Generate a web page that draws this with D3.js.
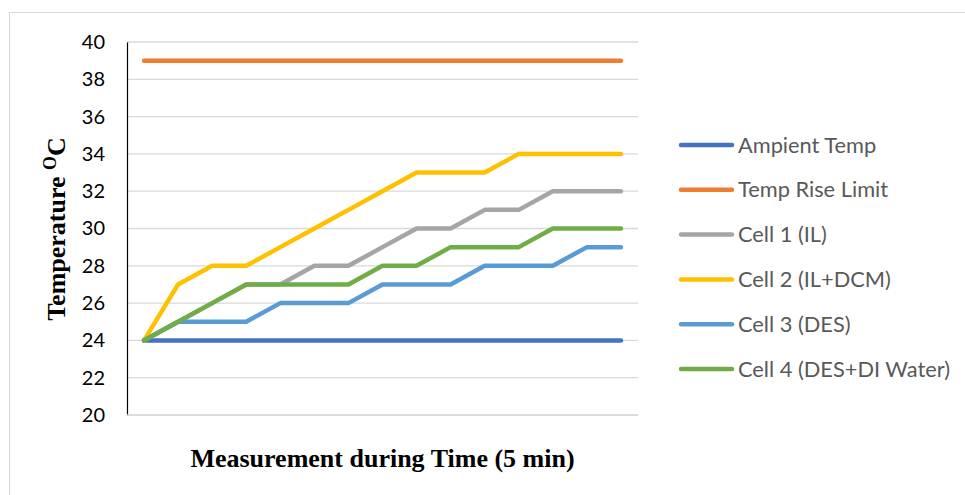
<!DOCTYPE html>
<html>
<head>
<meta charset="utf-8">
<script src="https://cdn.jsdelivr.net/npm/d3@7"></script>
<style>
  html, body { margin: 0; padding: 0; background: #fff; }
  svg { display: block; }
</style>
</head>
<body>
<svg id="chart" width="965" height="495"></svg>
<script>
const categories = ["1","2","3","4","5","6","7","8","9","10","11","12","13","14","15"];
const ampientTemp   = [24,24,24,24,24,24,24,24,24,24,24,24,24,24,24];
const tempRiseLimit = [39,39,39,39,39,39,39,39,39,39,39,39,39,39,39];
const cell1 = [24,25,26,27,27,28,28,29,30,30,31,31,32,32,32];
const cell2 = [24,27,28,28,29,30,31,32,33,33,33,34,34,34,34];
const cell3 = [24,25,25,25,26,26,26,27,27,27,28,28,28,29,29];
const cell4 = [24,25,26,27,27,27,27,28,28,29,29,29,30,30,30];
const seriesNames = ["Ampient Temp","Temp Rise Limit","Cell 1 (IL)","Cell 2 (IL+DCM)","Cell 3 (DES)","Cell 4 (DES+DI Water)"];
const seriesValues = [ampientTemp, tempRiseLimit, cell1, cell2, cell3, cell4];
const seriesColors = ["#4472C4","#ED7D31","#A5A5A5","#FFC000","#5B9BD5","#70AD47"];
const yTicks = [20,22,24,26,28,30,32,34,36,38,40];

const svg = d3.select("#chart");

// outer chart border (top & left visible)
svg.append("rect").attr("x", 9.5).attr("y", 12.5).attr("width", 975).attr("height", 500)
  .attr("fill", "none").attr("stroke", "#d9d9d9").attr("stroke-width", 1);

const pLeft = 127, pRight = 638, pTop = 42, pBottom = 415;

const x = d3.scalePoint().domain(categories).range([pLeft, pRight]).padding(0.5);
const y = d3.scaleLinear().domain([20, 40]).range([pBottom, pTop]);

// gridlines
svg.append("g").selectAll("line").data(yTicks).join("line")
  .attr("x1", pLeft).attr("x2", pRight)
  .attr("y1", d => y(d)).attr("y2", d => y(d))
  .attr("stroke", "#d9d9d9").attr("stroke-width", 1.3);

// y axis
const yAxis = svg.append("g").attr("transform", `translate(${pLeft},0)`)
  .call(d3.axisLeft(y).tickValues(yTicks).tickSize(0).tickPadding(22));
yAxis.select(".domain").attr("stroke", "#000").attr("stroke-width", 1.2);
yAxis.selectAll("text").attr("font-family", "Lato, 'Open Sans', sans-serif")
  .attr("font-size", 20).attr("fill", "#000");

// x axis (no labels)
const xAxis = svg.append("g").attr("transform", `translate(0,${pBottom})`)
  .call(d3.axisBottom(x).tickSize(0).tickFormat(""));
xAxis.select(".domain").attr("stroke", "#d9d9d9").attr("stroke-width", 1.3)
  .attr("d", `M${pLeft},0H${pRight}`);

// lines
const line = d3.line().x((d, i) => x(categories[i])).y(d => y(d));
svg.append("g").selectAll("path").data(seriesValues).join("path")
  .attr("d", d => line(d))
  .attr("fill", "none")
  .attr("stroke", (d, i) => seriesColors[i])
  .attr("stroke-width", 4.5)
  .attr("stroke-linejoin", "round")
  .attr("stroke-linecap", "round");

// legend
const lg = svg.append("g");
const legY0 = 145, legStep = 44.8;
seriesNames.forEach((name, i) => {
  const yy = legY0 + i * legStep;
  lg.append("line").attr("x1", 681).attr("x2", 732).attr("y1", yy).attr("y2", yy)
    .attr("stroke", seriesColors[i]).attr("stroke-width", 4.5).attr("stroke-linecap", "round");
  lg.append("text").attr("x", 738).attr("y", yy).attr("dy", "0.35em")
    .attr("font-family", "Lato, 'Open Sans', sans-serif").attr("font-size", 21.8)
    .attr("fill", "#595959").text(name);
});

// axis titles
svg.append("text").attr("x", (pLeft + pRight) / 2).attr("y", 467)
  .attr("text-anchor", "middle")
  .attr("font-family", "'Liberation Serif', 'Times New Roman', serif")
  .attr("font-weight", "bold").attr("font-size", 26).attr("fill", "#000")
  .text("Measurement during Time (5 min)");

const yt = svg.append("text")
  .attr("transform", "translate(65,229) rotate(-90)")
  .attr("text-anchor", "middle")
  .attr("font-family", "'Liberation Serif', 'Times New Roman', serif")
  .attr("font-weight", "bold").attr("font-size", 26).attr("fill", "#000");
yt.append("tspan").text("Temperature ");
yt.append("tspan").attr("font-size", 18).attr("dy", -9).text("O");
yt.append("tspan").attr("dy", 9).text("C");
</script>
</body>
</html>
